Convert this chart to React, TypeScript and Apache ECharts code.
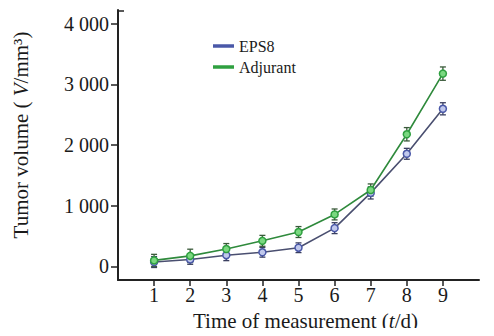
import React, { useEffect, useRef } from "react";
import * as echarts from "echarts";

const days = [1, 2, 3, 4, 5, 6, 7, 8, 9];
const eps8 = [70, 113, 183, 231, 306, 629, 1210, 1855, 2597];
const eps8Err = [90, 80, 90, 80, 80, 90, 100, 90, 100];
const adjurant = [97, 172, 285, 420, 565, 855, 1258, 2177, 3177];
const adjurantErr = [100, 110, 90, 90, 90, 90, 100, 110, 110];
const yTicks = [0, 1000, 2000, 3000, 4000];
const xTicks = [1, 2, 3, 4, 5, 6, 7, 8, 9];

const FONT = "Liberation Serif";
const TXT = "#1a1a1a";

function fmtThousand(v: number): string {
  if (v === 0) return "0";
  const s = String(v);
  return s.slice(0, s.length - 3) + " " + s.slice(s.length - 3);
}

function errSeries(name: string, vals: number[], errs: number[], color: string) {
  return {
    type: "custom",
    name: name + "-err",
    data: days.map((d, i) => [d, vals[i] - errs[i], vals[i] + errs[i]]),
    z: 1,
    renderItem: (params: any, api: any) => {
      const x = api.value(0);
      const lo = api.coord([x, api.value(1)]);
      const hi = api.coord([x, api.value(2)]);
      const w = 3;
      const style = { stroke: color, lineWidth: 1.3 };
      return {
        type: "group",
        children: [
          { type: "line", shape: { x1: lo[0], y1: lo[1], x2: hi[0], y2: hi[1] }, style },
          { type: "line", shape: { x1: hi[0] - w, y1: hi[1], x2: hi[0] + w, y2: hi[1] }, style },
          { type: "line", shape: { x1: lo[0] - w, y1: lo[1], x2: lo[0] + w, y2: lo[1] }, style },
        ],
      };
    },
    silent: true,
  };
}

export default function App() {
  const ref = useRef<HTMLDivElement>(null);
  useEffect(() => {
    if (!ref.current) return;
    const chart = echarts.init(ref.current, null, { renderer: "svg" });
    chart.setOption({
      animation: false,
      backgroundColor: "#ffffff",
      textStyle: { fontFamily: FONT },
      grid: { left: 118, top: 10, width: 361, height: 276 },
      legend: {
        orient: "vertical",
        left: 213,
        top: 38,
        padding: 0,
        itemWidth: 19,
        itemHeight: 1.5,
        itemGap: 5,
        icon: "rect",
        data: [
          { name: "EPS8", itemStyle: { color: "#5560a0" } },
          { name: "Adjurant", itemStyle: { color: "#3a7a40" } },
        ],
        textStyle: { fontFamily: FONT, fontSize: 16, color: TXT, padding: [0, 0, 0, 1] },
      },
      xAxis: {
        type: "value",
        min: 0,
        max: 10,
        interval: 1,
        name: "Time of measurement ({i|t}/d)",
        nameLocation: "middle",
        nameGap: 30,
        nameTextStyle: {
          fontFamily: FONT,
          fontSize: 21,
          color: TXT,
          padding: [0, 0, 0, 14],
          rich: { i: { fontFamily: FONT, fontStyle: "italic", fontSize: 21, color: TXT } },
        },
        axisLine: { show: true, onZero: false, lineStyle: { color: "#222", width: 2 } },
        axisTick: { show: true, inside: false, length: 6, customValues: xTicks, lineStyle: { color: "#222", width: 1.5 } },
        axisLabel: {
          customValues: xTicks,
          fontFamily: FONT,
          fontSize: 20,
          color: TXT,
          margin: 5,
        },
        splitLine: { show: false },
      },
      yAxis: {
        type: "value",
        min: -226,
        max: 4226,
        name: "Tumor volume ( {i|V}/mm³)",
        nameLocation: "middle",
        nameRotate: 90,
        nameGap: 87,
        nameTextStyle: {
          fontFamily: FONT,
          fontSize: 21,
          color: TXT,
          padding: [0, 0, 0, 20],
          rich: { i: { fontFamily: FONT, fontStyle: "italic", fontSize: 21, color: TXT } },
        },
        axisLine: { show: true, onZero: false, lineStyle: { color: "#222", width: 2 } },
        axisTick: { show: true, inside: false, length: 7, customValues: yTicks, lineStyle: { color: "#222", width: 1.5 } },
        axisLabel: {
          customValues: yTicks,
          formatter: (v: number) => fmtThousand(v),
          fontFamily: FONT,
          fontSize: 20,
          color: TXT,
          margin: 9,
        },
        splitLine: { show: false },
      },
      graphic: [
        {
          type: "line",
          shape: { x1: 117, y1: 11, x2: 124, y2: 11 },
          style: { stroke: "#222", lineWidth: 1.5 },
        },
      ],
      series: [
        errSeries("EPS8", eps8, eps8Err, "#3a3f60"),
        errSeries("Adjurant", adjurant, adjurantErr, "#3a5a3a"),
        {
          type: "line",
          name: "EPS8",
          data: days.map((d, i) => [d, eps8[i]]),
          z: 3,
          symbol: "circle",
          symbolSize: 7,
          lineStyle: { color: "#4a4f70", width: 1.6 },
          itemStyle: { color: "#c0c8ec", borderColor: "#4a58a8", borderWidth: 1.5 },
        },
        {
          type: "line",
          name: "Adjurant",
          data: days.map((d, i) => [d, adjurant[i]]),
          z: 4,
          symbol: "circle",
          symbolSize: 7,
          lineStyle: { color: "#2f8a3c", width: 1.6 },
          itemStyle: { color: "#7ad880", borderColor: "#2fa040", borderWidth: 1.5 },
        },
      ],
    });
    return () => chart.dispose();
  }, []);
  return <div ref={ref} style={{ width: 494, height: 336, margin: -8 }} />;
}
